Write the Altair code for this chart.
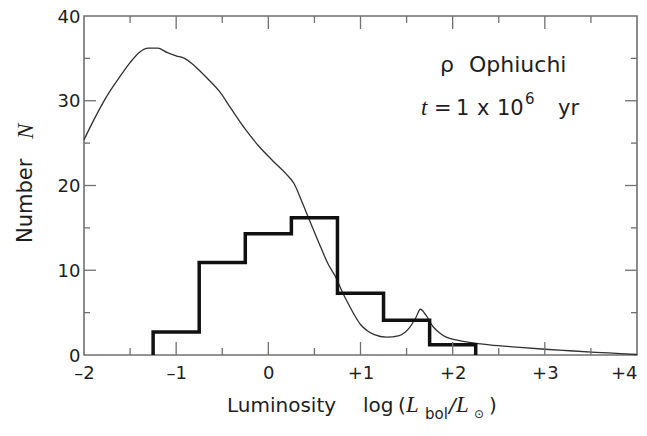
import altair as alt
import pandas as pd

# Histogram (bin edges and counts)
bin_edges = [-1.25, -0.75, -0.25, 0.25, 0.75, 1.25, 1.75, 2.25]
bin_counts = [2.7, 10.9, 14.3, 16.2, 7.3, 4.1, 1.2]

# Smooth curve (model luminosity function)
curve_x = [-2.0, -1.9, -1.76, -1.62, -1.5, -1.4, -1.3, -1.2, -1.1, -1.0, -0.91, -0.83,
           -0.75, -0.65, -0.53, -0.4, -0.24, -0.1, 0.05, 0.19, 0.28, 0.36, 0.45, 0.55,
           0.65, 0.74, 0.8, 0.87, 0.93, 1.0, 1.07, 1.15, 1.28, 1.42, 1.53, 1.6, 1.65,
           1.71, 1.79, 1.86, 1.93, 2.05, 2.18, 2.4, 2.73, 3.0, 3.27, 3.55, 3.82, 4.0]
curve_y = [25.4, 27.6, 30.4, 32.7, 34.5, 35.7, 36.2, 36.2, 35.7, 35.3, 35.0, 34.4,
           33.6, 32.5, 31.1, 29.0, 26.5, 24.6, 22.9, 21.4, 20.2, 18.2, 15.8, 13.2,
           10.7, 9.0, 7.5, 6.0, 4.8, 3.6, 2.9, 2.4, 2.1, 2.3, 3.2, 4.4, 5.4,
           4.7, 3.3, 2.6, 2.1, 1.75, 1.5, 1.2, 0.9, 0.68, 0.5, 0.32, 0.17, 0.06]

x_major = [-1, 0, 1, 2, 3]
x_minor = [-1.5, -0.5, 0.5, 1.5, 2.5, 3.5]
y_major = [10, 20, 30]
y_minor = [5, 15, 25, 35]
x_labels = [-2, -1, 0, 1, 2, 3, 4]
y_labels = [0, 10, 20, 30, 40]

W, H = 553, 339
FONT = "DejaVu Sans"
SERIF = "Liberation Serif"
TXT = "#1e1e1e"
FRAME = "#707070"

xs = alt.Scale(domain=[-2, 4], nice=False, zero=False)
ys = alt.Scale(domain=[0, 40], nice=False)
x_axis = alt.Axis(
    values=x_labels, title=None, domain=False, ticks=False, grid=False,
    labelExpr="datum.value > 0 ? '+' + datum.value : (datum.value < 0 ? '\u2013' + abs(datum.value) : '0')",
    labelAlign=alt.ConditionalAxisLabelAlign(
        condition={"test": "datum.value >= 4", "value": "right"}, value="center"),
    labelFont=FONT, labelFontSize=18, labelColor=TXT, labelPadding=9, labelFlush=False)
y_axis = alt.Axis(
    values=y_labels, title=None, domain=False, ticks=False, grid=False,
    labelFont=FONT, labelFontSize=18, labelColor=TXT, labelPadding=4, labelFlush=False,
    labelOffset=1)

# step outline of histogram
hx, hy = [bin_edges[0]], [0.0]
for i, c in enumerate(bin_counts):
    hx.append(bin_edges[i]); hy.append(c)
hx.append(bin_edges[-1]); hy.append(bin_counts[-1])
hx.append(bin_edges[-1]); hy.append(0.0)
hist_df = pd.DataFrame({"x": hx, "y": hy, "o": list(range(len(hx)))})
curve_df = pd.DataFrame({"x": curve_x, "y": curve_y})

curve = alt.Chart(curve_df).mark_line(color="#303030", strokeWidth=1.3, interpolate="monotone").encode(
    x=alt.X("x:Q", scale=xs, axis=x_axis),
    y=alt.Y("y:Q", scale=ys, axis=y_axis),
)

hist = alt.Chart(hist_df).mark_line(color="#111111", strokeWidth=3.5, interpolate="step-after",
                                    strokeJoin="miter").encode(
    x=alt.X("x:Q", scale=xs, axis=x_axis),
    y=alt.Y("y:Q", scale=ys, axis=y_axis),
    order="o:Q",
)

def xticks(vals, length):
    df = pd.DataFrame({"x": vals})
    b = alt.Chart(df).mark_rule(color=FRAME, strokeWidth=1.3).encode(
        x=alt.X("x:Q", scale=xs, axis=x_axis), y=alt.value(H), y2=alt.value(H - length))
    t = alt.Chart(df).mark_rule(color=FRAME, strokeWidth=1.3).encode(
        x=alt.X("x:Q", scale=xs, axis=x_axis), y=alt.value(0), y2=alt.value(length))
    return [b, t]

def yticks(vals, length):
    df = pd.DataFrame({"y": vals})
    l = alt.Chart(df).mark_rule(color=FRAME, strokeWidth=1.3).encode(
        y=alt.Y("y:Q", scale=ys, axis=y_axis), x=alt.value(0), x2=alt.value(length))
    r = alt.Chart(df).mark_rule(color=FRAME, strokeWidth=1.3).encode(
        y=alt.Y("y:Q", scale=ys, axis=y_axis), x=alt.value(W), x2=alt.value(W - length))
    return [l, r]

def txt(s, x, y, size=20, style="normal", angle=0, font=FONT):
    return alt.Chart(pd.DataFrame({"t": [s]})).mark_text(
        font=font, fontSize=size, fontStyle=style, color=TXT, align="left",
        baseline="alphabetic", angle=angle).encode(
        text="t:N", x=alt.value(x), y=alt.value(y))

OX, OY = 84, 16  # page offset of plot area
texts = [
    # annotation
    txt("ρ", 440 - OX, 72 - OY, 22),
    txt("Ophiuchi", 469 - OX, 72 - OY, 22),
    txt("t", 421 - OX, 115 - OY, 23, "italic", font=SERIF),
    txt("=", 434 - OX, 115 - OY, 21),
    txt("1", 456 - OX, 115 - OY, 21),
    txt("x", 477 - OX, 115 - OY, 21),
    txt("10", 497 - OX, 115 - OY, 21),
    txt("6", 525 - OX, 104 - OY, 15),
    txt("yr", 558 - OX, 115 - OY, 21),
    # x title
    txt("Luminosity", 227 - OX, 412 - OY, 20),
    txt("log", 363 - OX, 412 - OY, 20),
    txt("(", 398 - OX, 412 - OY, 20),
    txt("L", 406 - OX, 412 - OY, 23, "italic", font=SERIF),
    txt("bol", 425 - OX, 419 - OY, 15),
    txt("/", 449 - OX, 412 - OY, 20, "italic"),
    txt("L", 456 - OX, 412 - OY, 23, "italic", font=SERIF),
    txt("\u2299", 474 - OX, 418 - OY, 12),
    txt(")", 489 - OX, 412 - OY, 20),
    # y title
    txt("Number", 32 - OX, 243 - OY, 21, angle=270),
    txt("N", 33 - OX, 139 - OY, 23, "italic", angle=270, font=SERIF),
]

layers = [curve, hist] + xticks(x_major, 13) + xticks(x_minor, 7) + yticks(y_major, 12) + yticks(y_minor, 6) + texts

chart = alt.layer(*layers).properties(
    width=W, height=H,
    autosize=alt.AutoSizeParams(type="none"),
    padding={"left": OX - 8, "top": OY - 8, "right": 2, "bottom": 68},
    background="white",
).configure_view(stroke=FRAME, strokeWidth=1.6)

chart.save("out.html", embed_options={"renderer": "svg", "actions": False})
